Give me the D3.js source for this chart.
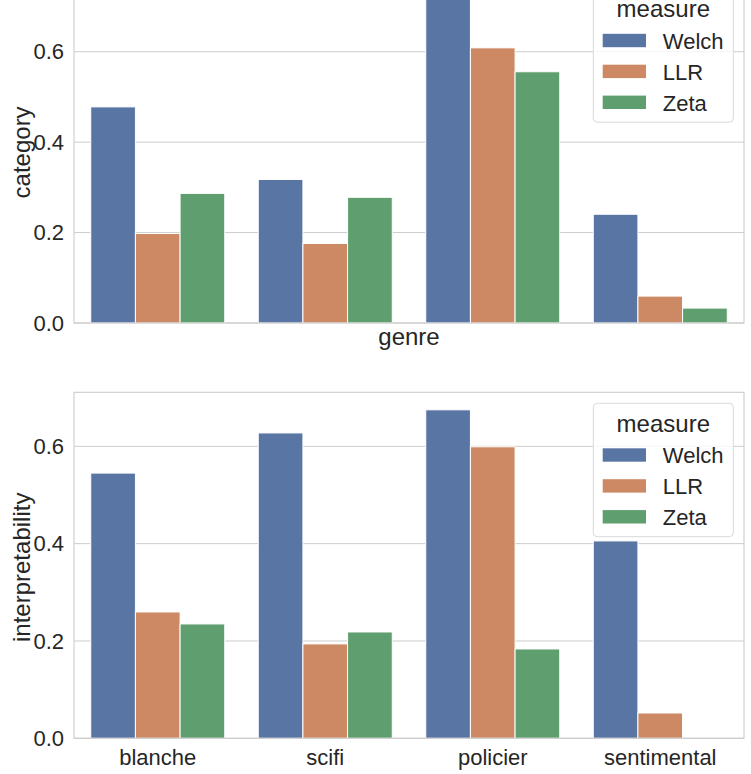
<!DOCTYPE html>
<html>
<head>
<meta charset="utf-8">
<script src="https://cdn.jsdelivr.net/npm/d3@7"></script>
<style>
  body { margin: 0; background: #fff; }
  svg { display: block; font-family: Arial, "Liberation Sans", sans-serif; }
</style>
</head>
<body>
<svg id="chart" width="751" height="774"></svg>
<script>
const genres = ["blanche", "scifi", "policier", "sentimental"];
const measures = ["Welch", "LLR", "Zeta"];
const categoryWelch = [0.478, 0.3175, 0.727, 0.2405];
const categoryLLR   = [0.198, 0.176, 0.6086, 0.0595];
const categoryZeta  = [0.2867, 0.278, 0.5557, 0.033];
const interpWelch = [0.545, 0.6275, 0.675, 0.4056];
const interpLLR   = [0.2596, 0.194, 0.599, 0.052];
const interpZeta  = [0.235, 0.2185, 0.1836, 0.0];
const yTicks = [0.0, 0.2, 0.4, 0.6];
const colors = ["#5975a4", "#cc8963", "#5f9e6e"];

function rows(w, l, z) {
  const out = [];
  genres.forEach((g, i) => {
    out.push({genre: g, measure: "Welch", value: w[i]});
    out.push({genre: g, measure: "LLR", value: l[i]});
    out.push({genre: g, measure: "Zeta", value: z[i]});
  });
  return out;
}

const svg = d3.select("#chart");
const left = 74, right = 744;
const xFull = d3.scaleBand().domain(genres).range([left, right]);
const color = d3.scaleOrdinal().domain(measures).range(colors);
const TICK = 22, LABEL = 24, TXT = "#262626";

function panel(data, yBottom, yTopPx, yMax, ylabel, showXTicks, xLabel) {
  const y = d3.scaleLinear().domain([0, yMax]).range([yBottom, yTopPx]);
  const xs = d3.scaleBand().domain(measures).range([0, xFull.bandwidth() * 0.8]);
  const g = svg.append("g");
  // grid
  g.append("g").selectAll("line").data(yTicks).join("line")
    .attr("x1", left).attr("x2", right)
    .attr("y1", d => y(d)).attr("y2", d => y(d))
    .attr("stroke", "#cccccc").attr("stroke-width", 1);
  // bars
  g.append("g").selectAll("rect").data(data).join("rect")
    .attr("x", d => xFull(d.genre) + xFull.bandwidth() * 0.1 + xs(d.measure))
    .attr("width", xs.bandwidth())
    .attr("y", d => y(d.value))
    .attr("height", d => y(0) - y(d.value))
    .attr("fill", d => color(d.measure))
    .attr("stroke", "#ffffff").attr("stroke-width", 1);
  // spines
  g.append("rect").attr("x", left).attr("y", yTopPx).attr("width", right - left).attr("height", yBottom - yTopPx)
    .attr("fill", "none").attr("stroke", "#cccccc").attr("stroke-width", 1.1);
  // y ticks
  const ya = d3.axisLeft(y).tickValues(yTicks).tickFormat(d3.format(".1f")).tickSize(0).tickPadding(10);
  const yg = g.append("g").attr("transform", `translate(${left},0)`).call(ya);
  yg.select(".domain").remove();
  yg.selectAll("text").attr("font-size", TICK).attr("fill", TXT).attr("font-family", "Arial, 'Liberation Sans', sans-serif");
  // x ticks
  if (showXTicks) {
    const xa = d3.axisBottom(xFull).tickSize(0).tickPadding(11);
    const xg = g.append("g").attr("transform", `translate(0,${yBottom})`).call(xa);
    xg.select(".domain").remove();
    xg.selectAll("text").attr("font-size", TICK).attr("fill", TXT).attr("font-family", "Arial, 'Liberation Sans', sans-serif");
  }
  if (xLabel) {
    g.append("text").attr("x", (left + right) / 2).attr("y", 344.5)
      .attr("text-anchor", "middle").attr("font-size", LABEL).attr("fill", TXT).text(xLabel);
  }
  // y label
  g.append("text")
    .attr("transform", `translate(29.5,${(yBottom + yTopPx) / 2 + 2}) rotate(-90)`)
    .attr("text-anchor", "middle").attr("font-size", LABEL).attr("fill", TXT).text(ylabel);
  // legend
  const lx = 593.3, ly = yTopPx + 11;
  const lg = g.append("g").attr("transform", `translate(${lx},${ly})`);
  lg.append("rect").attr("x", 0).attr("y", 0).attr("width", 140).attr("height", 133.4).attr("rx", 4)
    .attr("fill", "#ffffff").attr("fill-opacity", 0.8).attr("stroke", "#d9d9d9").attr("stroke-width", 1);
  lg.append("text").attr("x", 70).attr("y", 28.4).attr("text-anchor", "middle")
    .attr("font-size", LABEL).attr("fill", TXT).text("measure");
  measures.forEach((m, i) => {
    const top = 45 + i * 30.9;
    lg.append("rect").attr("x", 9.4).attr("y", top).attr("width", 43.3).attr("height", 13.4).attr("fill", color(m));
    lg.append("text").attr("x", 69.5).attr("y", top + 15.2).attr("font-size", TICK).attr("fill", TXT).text(m);
  });
}

panel(rows(categoryWelch, categoryLLR, categoryZeta), 323, -22.2, 0.7635, "category", false, "genre");
panel(rows(interpWelch, interpLLR, interpZeta), 738.3, 392.3, 0.711, "interpretability", true, null);
</script>
</body>
</html>
